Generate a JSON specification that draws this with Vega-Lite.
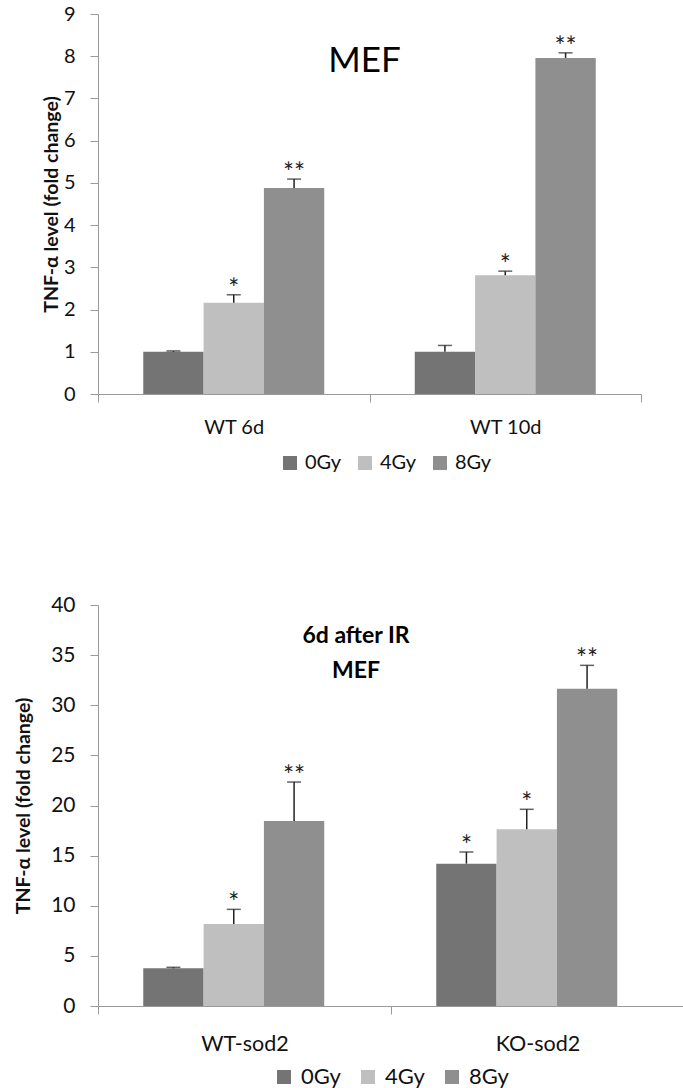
{
  "$schema": "https://vega.github.io/schema/vega-lite/v6.json",
  "padding": {"left": 13, "top": 4, "right": 0, "bottom": 0},
  "spacing": 121,
  "config": {
    "view": {"stroke": null},
    "font": "Lato",
    "axis": {
      "grid": false,
      "domainColor": "#9a9a9a",
      "tickColor": "#9a9a9a",
      "labelColor": "#111111",
      "labelFont": "Lato",
      "labelFontSize": 20,
      "titleFont": "Lato",
      "titleColor": "#111111",
      "tickSize": 8
    },
    "legend": {"labelFont": "Lato", "labelColor": "#111111"}
  },
  "resolve": {"scale": {"color": "independent"}, "legend": {"color": "independent"}},
  "vconcat": [
    {
      "width": 543,
      "height": 380,
      "title": {"text": "MEF", "fontSize": 35, "fontWeight": "normal", "font": "Lato", "color": "#000000", "offset": -75, "dx": -5, "frame": "group", "anchor": "middle"},
      "data": {"values": [
        {"group": "WT 6d", "dose": "0Gy", "value": 1.0, "upper": 1.02, "sig": ""},
        {"group": "WT 6d", "dose": "4Gy", "value": 2.16, "upper": 2.35, "sig": "*"},
        {"group": "WT 6d", "dose": "8Gy", "value": 4.88, "upper": 5.09, "sig": "**"},
        {"group": "WT 10d", "dose": "0Gy", "value": 1.0, "upper": 1.15, "sig": ""},
        {"group": "WT 10d", "dose": "4Gy", "value": 2.81, "upper": 2.91, "sig": "*"},
        {"group": "WT 10d", "dose": "8Gy", "value": 7.96, "upper": 8.08, "sig": "**"}
      ]},
      "encoding": {
        "x": {"field": "group", "type": "nominal", "sort": ["WT 6d", "WT 10d"],
          "scale": {"paddingInner": 0, "paddingOuter": 0},
          "axis": {"title": null, "labelAngle": 0, "tickBand": "extent", "labelPadding": 15}},
        "xOffset": {"field": "dose", "type": "nominal", "sort": ["0Gy", "4Gy", "8Gy"],
          "scale": {"paddingInner": 0, "paddingOuter": 0.75}}
      },
      "layer": [
        {
          "mark": {"type": "bar"},
          "encoding": {
            "y": {"field": "value", "type": "quantitative", "scale": {"domain": [0, 9]},
              "axis": {"title": "TNF-α level (fold change)", "titleFontSize": 19.5, "titleFontWeight": "bold", "titlePadding": 2, "values": [0,1,2,3,4,5,6,7,8,9], "labelPadding": 15}},
            "color": {"field": "dose", "type": "nominal",
              "scale": {"domain": ["0Gy", "4Gy", "8Gy"], "range": ["#747474", "#bfbfbf", "#8f8f8f"]},
              "legend": {"orient": "none", "legendX": 182, "legendY": 439, "direction": "horizontal", "title": null,
                "symbolType": "square", "symbolSize": 196, "symbolStrokeWidth": 0, "labelFontSize": 20, "columnPadding": 13, "labelOffset": 5}}
          }
        },
        {
          "mark": {"type": "rule", "color": "#222222", "strokeWidth": 1.5},
          "encoding": {"y": {"field": "value", "type": "quantitative",
              "axis": {"title": "TNF-α level (fold change)", "titleFontSize": 19.5, "titleFontWeight": "bold", "titlePadding": 2, "values": [0,1,2,3,4,5,6,7,8,9], "labelPadding": 15}},
            "y2": {"field": "upper"}}
        },
        {
          "mark": {"type": "tick", "orient": "horizontal", "size": 14, "thickness": 1.5, "color": "#222222"},
          "encoding": {"y": {"field": "upper", "type": "quantitative",
              "axis": {"title": "TNF-α level (fold change)", "titleFontSize": 19.5, "titleFontWeight": "bold", "titlePadding": 2, "values": [0,1,2,3,4,5,6,7,8,9], "labelPadding": 15}}}
        },
        {
          "mark": {"type": "text", "baseline": "alphabetic", "dy": 3, "fontSize": 26, "color": "#222222", "font": "Lato"},
          "encoding": {"y": {"field": "upper", "type": "quantitative",
              "axis": {"title": "TNF-α level (fold change)", "titleFontSize": 19.5, "titleFontWeight": "bold", "titlePadding": 2, "values": [0,1,2,3,4,5,6,7,8,9], "labelPadding": 15}},
            "text": {"field": "sig"}}
        }
      ]
    },
    {
      "width": 586,
      "height": 401,
      "title": {"text": ["6d after IR", "MEF"], "fontSize": 23, "fontWeight": "bold", "font": "Lato", "color": "#000000", "lineHeight": 35, "offset": -89, "dx": -35, "frame": "group", "anchor": "middle"},
      "data": {"values": [
        {"group": "WT-sod2", "dose": "0Gy", "value": 3.76, "upper": 3.86, "sig": ""},
        {"group": "WT-sod2", "dose": "4Gy", "value": 8.18, "upper": 9.64, "sig": "*"},
        {"group": "WT-sod2", "dose": "8Gy", "value": 18.45, "upper": 22.34, "sig": "**"},
        {"group": "KO-sod2", "dose": "0Gy", "value": 14.2, "upper": 15.36, "sig": "*"},
        {"group": "KO-sod2", "dose": "4Gy", "value": 17.62, "upper": 19.62, "sig": "*"},
        {"group": "KO-sod2", "dose": "8Gy", "value": 31.65, "upper": 33.98, "sig": "**"}
      ]},
      "encoding": {
        "x": {"field": "group", "type": "nominal", "sort": ["WT-sod2", "KO-sod2"],
          "scale": {"paddingInner": 0, "paddingOuter": 0},
          "axis": {"title": null, "labelAngle": 0, "tickBand": "extent", "labelPadding": 19, "labelFontSize": 21.5}},
        "xOffset": {"field": "dose", "type": "nominal", "sort": ["0Gy", "4Gy", "8Gy"],
          "scale": {"paddingInner": 0, "paddingOuter": 0.7}}
      },
      "layer": [
        {
          "mark": {"type": "bar"},
          "encoding": {
            "y": {"field": "value", "type": "quantitative", "scale": {"domain": [0, 40]},
              "axis": {"title": "TNF-α level (fold change)", "titleFontSize": 19.5, "titleFontWeight": "bold", "titlePadding": 17, "values": [0,5,10,15,20,25,30,35,40], "labelPadding": 15, "labelFontSize": 21}},
            "color": {"field": "dose", "type": "nominal",
              "scale": {"domain": ["0Gy", "4Gy", "8Gy"], "range": ["#747474", "#bfbfbf", "#8f8f8f"]},
              "legend": {"orient": "none", "legendX": 175, "legendY": 461, "direction": "horizontal", "title": null,
                "symbolType": "square", "symbolSize": 196, "symbolStrokeWidth": 0, "labelFontSize": 22, "columnPadding": 16, "labelOffset": 6}}
          }
        },
        {
          "mark": {"type": "rule", "color": "#222222", "strokeWidth": 1.5},
          "encoding": {"y": {"field": "value", "type": "quantitative",
              "axis": {"title": "TNF-α level (fold change)", "titleFontSize": 19.5, "titleFontWeight": "bold", "titlePadding": 17, "values": [0,5,10,15,20,25,30,35,40], "labelPadding": 15, "labelFontSize": 21}},
            "y2": {"field": "upper"}}
        },
        {
          "mark": {"type": "tick", "orient": "horizontal", "size": 14, "thickness": 1.5, "color": "#222222"},
          "encoding": {"y": {"field": "upper", "type": "quantitative",
              "axis": {"title": "TNF-α level (fold change)", "titleFontSize": 19.5, "titleFontWeight": "bold", "titlePadding": 17, "values": [0,5,10,15,20,25,30,35,40], "labelPadding": 15, "labelFontSize": 21}}}
        },
        {
          "mark": {"type": "text", "baseline": "alphabetic", "dy": 3, "fontSize": 26, "color": "#222222", "font": "Lato"},
          "encoding": {"y": {"field": "upper", "type": "quantitative",
              "axis": {"title": "TNF-α level (fold change)", "titleFontSize": 19.5, "titleFontWeight": "bold", "titlePadding": 17, "values": [0,5,10,15,20,25,30,35,40], "labelPadding": 15, "labelFontSize": 21}},
            "text": {"field": "sig"}}
        }
      ]
    }
  ]
}
